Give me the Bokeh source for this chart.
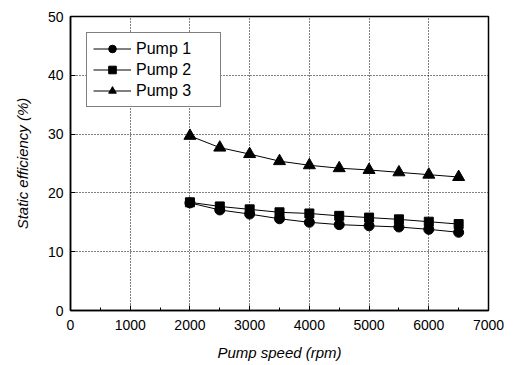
from bokeh.plotting import figure
from bokeh.embed import file_html
from bokeh.resources import INLINE
from bokeh.models import Range1d, FixedTicker, Legend, LegendItem

speed = [2000, 2500, 3000, 3500, 4000, 4500, 5000, 5500, 6000, 6500]
pump1 = [18.3, 17.1, 16.4, 15.6, 15.0, 14.6, 14.4, 14.2, 13.8, 13.3]
pump2 = [18.4, 17.7, 17.2, 16.7, 16.5, 16.1, 15.8, 15.5, 15.1, 14.7]
pump3 = [29.7, 27.7, 26.6, 25.4, 24.7, 24.2, 23.9, 23.5, 23.1, 22.7]
x_ticks = [0, 1000, 2000, 3000, 4000, 5000, 6000, 7000]
y_ticks = [0, 10, 20, 30, 40, 50]

p = figure(width=506, height=363, output_backend="svg", toolbar_location=None,
           x_range=Range1d(0, 7000), y_range=Range1d(0, 50),
           min_border_left=70, min_border_right=18, min_border_top=16, min_border_bottom=48)
p.background_fill_color = "white"
p.border_fill_color = "white"
p.outline_line_color = "black"
p.outline_line_width = 1.5

font = "Liberation Sans"
p.xaxis.ticker = FixedTicker(ticks=x_ticks, minor_ticks=list(range(0, 7001, 500)))
p.yaxis.ticker = FixedTicker(ticks=y_ticks)
for ax in (p.xaxis[0], p.yaxis[0]):
    ax.major_tick_in = 5
    ax.major_tick_out = 0
    ax.minor_tick_in = 3
    ax.minor_tick_out = 0
    ax.axis_line_width = 1.5
    ax.major_label_text_font = font
    ax.major_label_text_font_size = "14px"
    ax.major_label_text_color = "black"
    ax.axis_label_text_font = font
    ax.axis_label_text_font_size = "15px"
    ax.axis_label_text_font_style = "italic"
    ax.axis_label_text_color = "black"
p.xaxis.axis_label = "Pump speed (rpm)"
p.yaxis.axis_label = "Static efficiency (%)"
p.xaxis.major_label_standoff = 9
p.xaxis.axis_label_standoff = 11
p.yaxis.major_label_standoff = 7
p.yaxis.axis_label_standoff = 14

p.xgrid.grid_line_color = "black"
p.ygrid.grid_line_color = "black"
p.xgrid.grid_line_dash = "1 2"
p.ygrid.grid_line_dash = "1 2"
p.xgrid.grid_line_width = 1
p.ygrid.grid_line_width = 1

l1 = p.line(speed, pump1, line_color="black", line_width=1)
m1 = p.scatter(speed, pump1, marker="circle", size=10, color="black")
l2 = p.line(speed, pump2, line_color="black", line_width=1)
m2 = p.scatter(speed, pump2, marker="square", size=9, color="black")
l3 = p.line(speed, pump3, line_color="black", line_width=1)
m3 = p.scatter(speed, pump3, marker="triangle", size=12, color="black")

legend = Legend(items=[LegendItem(label="Pump 1", renderers=[l1, m1]),
                       LegendItem(label="Pump 2", renderers=[l2, m2]),
                       LegendItem(label="Pump 3", renderers=[l3, m3])],
                location="top_left")
legend.label_text_font = font
legend.label_text_font_size = "16px"
legend.label_text_color = "black"
legend.border_line_color = "black"
legend.border_line_width = 1.2
legend.glyph_width = 38
legend.glyph_height = 19
legend.label_height = 19
legend.label_width = 78
legend.spacing = 2
legend.padding = 6
legend.margin = 16
legend.label_standoff = 5
legend.background_fill_alpha = 1
p.add_layout(legend)

open("out.html", "w").write(file_html(p, INLINE))
